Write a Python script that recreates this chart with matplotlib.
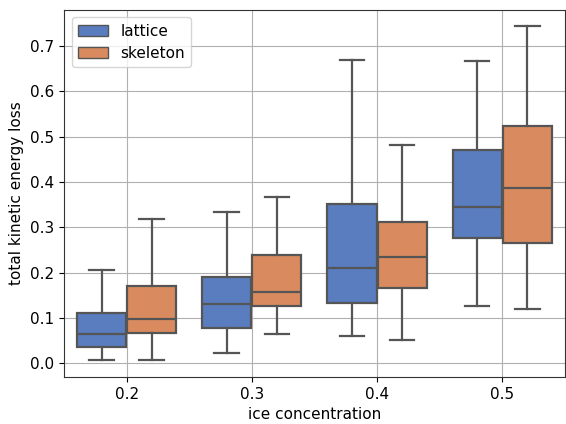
import matplotlib
matplotlib.use("Agg")
import matplotlib.pyplot as plt
from matplotlib.patches import Patch
import seaborn as sns

categories = ["0.2", "0.3", "0.4", "0.5"]
series = ["lattice", "skeleton"]

# per category: whisker low, Q1, median, Q3, whisker high
lattice_low = [0.007, 0.022, 0.060, 0.126]
lattice_q1 = [0.037, 0.079, 0.132, 0.2775]
lattice_med = [0.064, 0.130, 0.210, 0.344]
lattice_q3 = [0.111, 0.191, 0.3525, 0.470]
lattice_high = [0.205, 0.333, 0.670, 0.668]

skeleton_low = [0.0075, 0.065, 0.051, 0.120]
skeleton_q1 = [0.066, 0.126, 0.166, 0.265]
skeleton_med = [0.098, 0.158, 0.234, 0.387]
skeleton_q3 = [0.1715, 0.238, 0.311, 0.5225]
skeleton_high = [0.319, 0.367, 0.482, 0.745]

muted = sns.color_palette("muted")
colors = [sns.desaturate(muted[0], 0.75), sns.desaturate(muted[1], 0.75)]
edge = "#555555"

fig = plt.figure(figsize=(5.66, 4.24), dpi=100)
ax = fig.add_axes([0.113, 0.111, 0.885, 0.866])

data = [
    (lattice_low, lattice_q1, lattice_med, lattice_q3, lattice_high),
    (skeleton_low, skeleton_q1, skeleton_med, skeleton_q3, skeleton_high),
]
width = 0.4
for s, (lo, q1, med, q3, hi) in enumerate(data):
    stats = []
    for i in range(len(categories)):
        stats.append(dict(whislo=lo[i], q1=q1[i], med=med[i], q3=q3[i], whishi=hi[i], fliers=[]))
    positions = [i + (s - 0.5) * width for i in range(len(categories))]
    bp = ax.bxp(stats, positions=positions, widths=width * 0.98, patch_artist=True,
                showfliers=False, manage_ticks=False,
                boxprops=dict(facecolor=colors[s], edgecolor=edge, linewidth=1.6),
                medianprops=dict(color=edge, linewidth=1.6),
                whiskerprops=dict(color=edge, linewidth=1.6),
                capprops=dict(color=edge, linewidth=1.6))
    for b in bp["boxes"]:
        b.set_zorder(2)

ax.set_xticks(range(len(categories)))
ax.set_xticklabels(categories, fontsize=11)
ax.set_xlim(-0.5, len(categories) - 0.5)
ax.set_ylim(-0.03, 0.78)
ax.set_yticks([0.0, 0.1, 0.2, 0.3, 0.4, 0.5, 0.6, 0.7])
ax.tick_params(axis="y", labelsize=11)
ax.grid(True, color="#b0b0b0", linewidth=0.8)
ax.set_axisbelow(True)
for sp in ax.spines.values():
    sp.set_color("#333333")
ax.set_xlabel("ice concentration", fontsize=11)
ax.set_ylabel("total kinetic energy loss", fontsize=11)

handles = [Patch(facecolor=colors[k], edgecolor=edge, label=series[k]) for k in range(2)]
ax.legend(handles=handles, loc="upper left", fontsize=11)

fig.savefig("out.png", dpi=100)
